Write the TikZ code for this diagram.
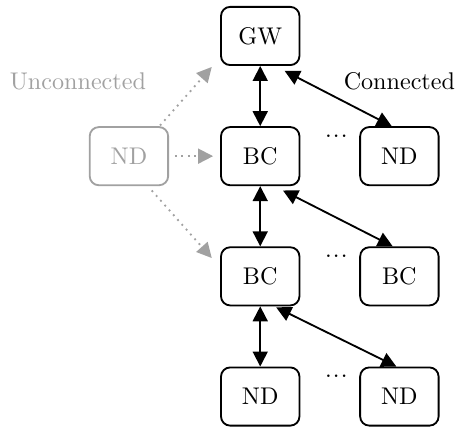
\documentclass[tikz,border=0pt]{standalone}
\usepackage{xcolor}
\usepackage{tikz}
\usetikzlibrary{positioning,calc,arrows.meta}
\definecolor{offgray}{gray}{0.63}
\tikzset{%
	block/.style    = {draw, rectangle, rounded corners, minimum height = 0.89cm,
		minimum width = 1.2cm},
	offblock/.style = {block, draw=offgray, text=offgray},
	offlink/.style  = {->, dotted, offgray}
}
\newcommand{\gap}{.\kern0.5pt.\kern0.5pt.}

\begin{document}
\begin{tikzpicture}[thick,
          font=\fontsize{10.5}{12}\selectfont,
          >={Triangle[length=6.5pt,width=6.5pt]}]
        \useasboundingbox (-3.98,-5.99) rectangle (3.04,0.55);
        \draw
        	node at (0,0)[block, name=gw]{GW}
        	node [block, below=0.92cm of gw] (bc1) {BC}
        	node [block, right=0.9cm of bc1] (nd1) {ND}
        	node [offblock, left=0.78cm of bc1] (ndx) {ND}
        	
        	node [block, below=0.92cm of bc1] (bc2) {BC}
        	node [block, right=0.9cm of bc2] (bc3) {BC}
        	
        	node [block, below=0.92cm of bc2] (nd2) {ND}
        	node [block, right=0.9cm of nd2] (nd3) {ND}
        	
        	node [above=0.42cm of nd1] (conn) {Connected}
        	node [above=0.42cm of ndx, xshift=-0.78cm, text=offgray] (unconn) {Unconnected};
        	
        	% dots between the two columns
        	\node [below, xshift=0.1cm] (dots1) at ($(bc1.north east)!0.5!(nd1.north west)$) {\gap};
        	\node [below, xshift=0.1cm] (dots2) at ($(bc2.north east)!0.5!(bc3.north west)$) {\gap};
        	\node [below, xshift=0.1cm] (dots3) at ($(nd2.north east)!0.5!(nd3.north west)$) {\gap};
        	
        	\draw[<->](gw) -- (bc1);
        	\draw[<->](bc1) -- (bc2);
        	\draw[<->](bc2) -- (nd2);
        	
        	\draw[<->]($(gw.south east)+(-0.24,-0.076)$) -- ($(nd1.north)+(-0.118,0)$);
        	\draw[<->]($(bc1.south east)+(-0.266,-0.066)$) -- ($(bc3.north)+(-0.102,0)$);
        	\draw[<->]($(bc2.south east)+(-0.37,-0.015)$) -- ($(nd3.north)+(-0.046,0)$);
        	
        	% not yet joined
        	\draw[offlink]($(ndx.north east)+(-0.138,0.01)$) -- ($(gw.south west)+(-0.127,-0.015)$);
        	\draw[offlink, shorten <=0.09cm, shorten >=0.107cm](ndx) -- (bc1);
        	\draw[offlink]($(ndx.south east)+(-0.265,-0.066)$) -- ($(bc2.north west)+(-0.127,-0.179)$);
    \end{tikzpicture}
\end{document}
